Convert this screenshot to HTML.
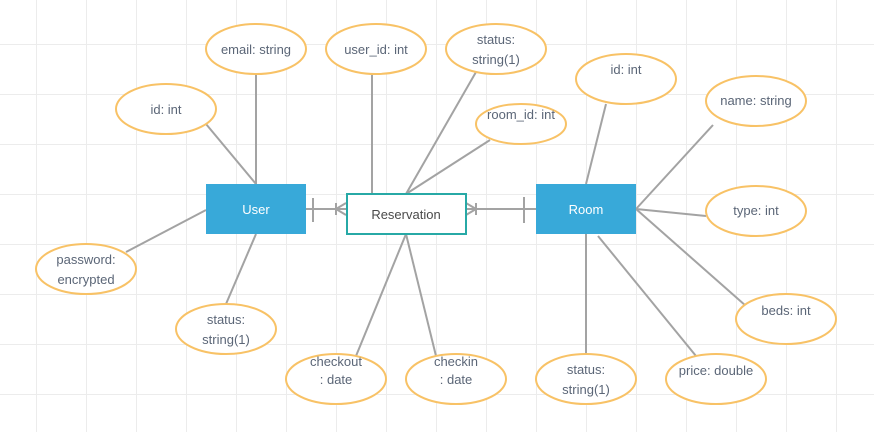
<!DOCTYPE html>
<html><head><style>
html,body{margin:0;padding:0;background:#fff;}
svg{display:block;}
text{font-family:"Liberation Sans",sans-serif;font-size:13px;fill:#5b6677;}
</style></head><body>
<svg width="874" height="432" xmlns="http://www.w3.org/2000/svg">
<defs>
<pattern id="g" x="36" y="44" width="50" height="50" patternUnits="userSpaceOnUse">
<path d="M0 0H50M0 0V50" stroke="#ececec" stroke-width="2" fill="none"/>
</pattern>
</defs>
<rect width="874" height="432" fill="url(#g)"/>
<g stroke="#a3a3a3" stroke-width="2" fill="none">
<line x1="256" y1="74" x2="256" y2="184"/>
<line x1="206" y1="124" x2="256" y2="184"/>
<line x1="126" y1="252" x2="206" y2="210"/>
<line x1="226" y1="304" x2="256" y2="234"/>
<line x1="306" y1="209" x2="346" y2="209"/>
<line x1="313" y1="198" x2="313" y2="222"/>
<line x1="336" y1="203" x2="336" y2="215"/>
<line x1="336" y1="209" x2="346" y2="203"/>
<line x1="336" y1="209" x2="346" y2="215"/>
<line x1="466" y1="209" x2="536" y2="209"/>
<line x1="524" y1="197" x2="524" y2="223"/>
<line x1="476" y1="203" x2="476" y2="215"/>
<line x1="476" y1="209" x2="466" y2="203"/>
<line x1="476" y1="209" x2="466" y2="215"/>
<line x1="372" y1="74" x2="372" y2="194"/>
<line x1="476" y1="72" x2="406" y2="194"/>
<line x1="490" y1="140" x2="406" y2="194"/>
<line x1="356" y1="356" x2="406" y2="234"/>
<line x1="436" y1="356" x2="406" y2="234"/>
<line x1="606" y1="104" x2="586" y2="184"/>
<line x1="713" y1="125" x2="636" y2="209"/>
<line x1="706" y1="216" x2="636" y2="209"/>
<line x1="746" y1="306" x2="636" y2="209"/>
<line x1="696" y1="356" x2="598" y2="236"/>
<line x1="586" y1="354" x2="586" y2="234"/>
</g>
<rect x="206" y="184" width="100" height="50" fill="#38a9d9"/>
<rect x="536" y="184" width="100" height="50" fill="#38a9d9"/>
<rect x="347" y="194" width="119" height="40" fill="#fff" stroke="#27a9a6" stroke-width="2"/>
<text x="256" y="214" text-anchor="middle" style="fill:#fff">User</text>
<text x="586" y="214" text-anchor="middle" style="fill:#fff">Room</text>
<text x="406" y="219" text-anchor="middle" style="fill:#4a4a4a">Reservation</text>
<g fill="#fff" stroke="#f8c266" stroke-width="2">
<ellipse cx="256" cy="49" rx="50" ry="25"/>
<ellipse cx="166" cy="109" rx="50" ry="25"/>
<ellipse cx="86" cy="269" rx="50" ry="25"/>
<ellipse cx="226" cy="329" rx="50" ry="25"/>
<ellipse cx="376" cy="49" rx="50" ry="25"/>
<ellipse cx="496" cy="49" rx="50" ry="25"/>
<ellipse cx="521" cy="124" rx="45" ry="20"/>
<ellipse cx="626" cy="79" rx="50" ry="25"/>
<ellipse cx="756" cy="101" rx="50" ry="25"/>
<ellipse cx="756" cy="211" rx="50" ry="25"/>
<ellipse cx="786" cy="319" rx="50" ry="25"/>
<ellipse cx="716" cy="379" rx="50" ry="25"/>
<ellipse cx="586" cy="379" rx="50" ry="25"/>
<ellipse cx="456" cy="379" rx="50" ry="25"/>
<ellipse cx="336" cy="379" rx="50" ry="25"/>
</g>
<g text-anchor="middle">
<text x="256" y="54">email: string</text>
<text x="166" y="114">id: int</text>
<text x="86" y="264">password:</text><text x="86" y="284">encrypted</text>
<text x="226" y="324">status:</text><text x="226" y="344">string(1)</text>
<text x="376" y="54">user_id: int</text>
<text x="496" y="44">status:</text><text x="496" y="64">string(1)</text>
<text x="521" y="119">room_id: int</text>
<text x="626" y="74">id: int</text>
<text x="756" y="105">name: string</text>
<text x="756" y="215">type: int</text>
<text x="786" y="315">beds: int</text>
<text x="716" y="375">price: double</text>
<text x="586" y="374">status:</text><text x="586" y="394">string(1)</text>
<text x="456" y="366">checkin</text><text x="456" y="384">: date</text>
<text x="336" y="366">checkout</text><text x="336" y="384">: date</text>
</g>
</svg>
</body></html>
